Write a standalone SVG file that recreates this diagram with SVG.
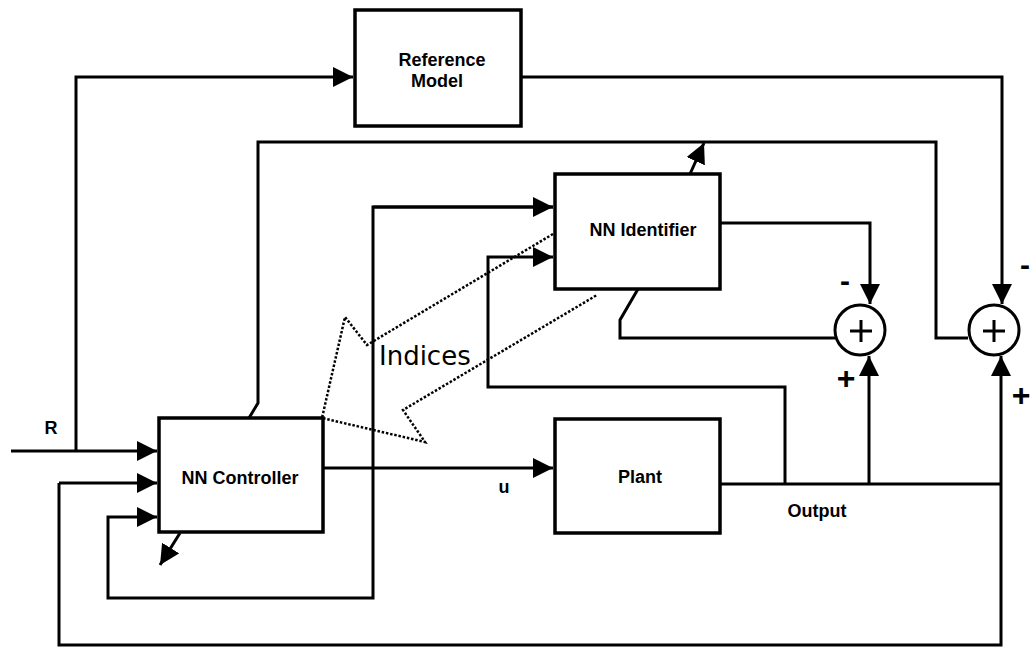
<svg xmlns="http://www.w3.org/2000/svg" width="1033" height="647" viewBox="0 0 1033 647">
<style>
.box{fill:#fff;stroke:#000;stroke-width:3.5}
.ln{fill:none;stroke:#000;stroke-width:3;stroke-linejoin:miter}
.dot{fill:none;stroke:#000;stroke-width:2.5;stroke-dasharray:2.5 1.8}
.lbl{font-family:"Liberation Sans",Arial,sans-serif;font-weight:bold;font-size:18px;fill:#000}
.sum{fill:#fff;stroke:#000;stroke-width:3}
.sgn{font-family:"Liberation Sans",Arial,sans-serif;font-weight:bold;fill:#000}
</style>
<defs>
<marker id="ah" markerUnits="userSpaceOnUse" markerWidth="20" markerHeight="20" refX="20" refY="10" orient="auto" viewBox="0 0 20 20">
<path d="M0,0 L20,10 L0,20 z" fill="#000"/>
</marker>
</defs>
<rect width="1033" height="647" fill="#fff"/>
<g id="connectors">
<polyline class="ln" points="11,451 157,451" marker-end="url(#ah)"/>
<polyline class="ln" points="76,451 76,77 353,77" marker-end="url(#ah)"/>
<polyline class="ln" points="521,77 1002,77 1002,304" marker-end="url(#ah)"/>
<polyline class="ln" points="249,418 258,403 258,142 936,142 936,338 968,338"/>
<polyline class="ln" points="690,174 704,143" marker-end="url(#ah)"/>
<polyline class="ln" points="323,468 553,468" marker-end="url(#ah)"/>
<polyline class="ln" points="553,207 373,207 373,598 108,598 108,517 157,517" marker-end="url(#ah)"/>
<polyline class="ln" points="373,207 553,207" marker-end="url(#ah)"/>
<polyline class="ln" points="720,223 870,223 870,304" marker-end="url(#ah)"/>
<polyline class="ln" points="638,289 620,320 620,338 835,338"/>
<polyline class="ln" points="720,484 1001,484"/>
<polyline class="ln" points="785,484 785,387 488,387 488,257 553,257" marker-end="url(#ah)"/>
<polyline class="ln" points="869,484 869,356" marker-end="url(#ah)"/>
<polyline class="ln" points="59,483 59,645 1001,645 1001,356" marker-end="url(#ah)"/>
<polyline class="ln" points="59,483 157,483" marker-end="url(#ah)"/>
<polyline class="ln" points="180,533 160,565" marker-end="url(#ah)"/>
<polyline class="dot" points="553,234 367,345 345,317 322,418 425,442 403,410 597,295"/>
</g>
<g id="reference-model">
<rect class="box" x="355" y="10" width="166" height="116"/>
<text class="lbl" x="442" y="66" text-anchor="middle">Reference</text>
<text class="lbl" x="437" y="87" text-anchor="middle">Model</text>
</g>
<g id="nn-identifier">
<rect class="box" x="555" y="174" width="165" height="115"/>
<text class="lbl" x="643" y="236" text-anchor="middle">NN Identifier</text>
</g>
<g id="nn-controller">
<rect class="box" x="159" y="418" width="164" height="114"/>
<text class="lbl" x="240" y="484" text-anchor="middle">NN Controller</text>
</g>
<g id="plant">
<rect class="box" x="555" y="419" width="165" height="114"/>
<text class="lbl" x="640" y="483" text-anchor="middle">Plant</text>
</g>
<g id="sum1">
<circle class="sum" cx="860" cy="330" r="25"/>
<path class="ln" d="M850,331 H872 M861,320 V342"/>
<text class="sgn" x="845" y="291" font-size="30" text-anchor="middle">-</text>
<text class="sgn" x="846" y="389" font-size="32" text-anchor="middle">+</text>
</g>
<g id="sum2">
<circle class="sum" cx="994" cy="330" r="25"/>
<path class="ln" d="M983,331 H1005 M994,320 V342"/>
<text class="sgn" x="1025" y="275" font-size="30" text-anchor="middle">-</text>
<text class="sgn" x="1021" y="406" font-size="32" text-anchor="middle">+</text>
</g>
<g id="labels">
<text class="lbl" x="51" y="434" text-anchor="middle">R</text>
<text class="lbl" x="504" y="493" text-anchor="middle">u</text>
<text class="lbl" x="817" y="517" text-anchor="middle">Output</text>
<text x="379" y="365" font-family="DejaVu Sans,Verdana,sans-serif" font-size="26" fill="#000">Indices</text>
</g>
</svg>
